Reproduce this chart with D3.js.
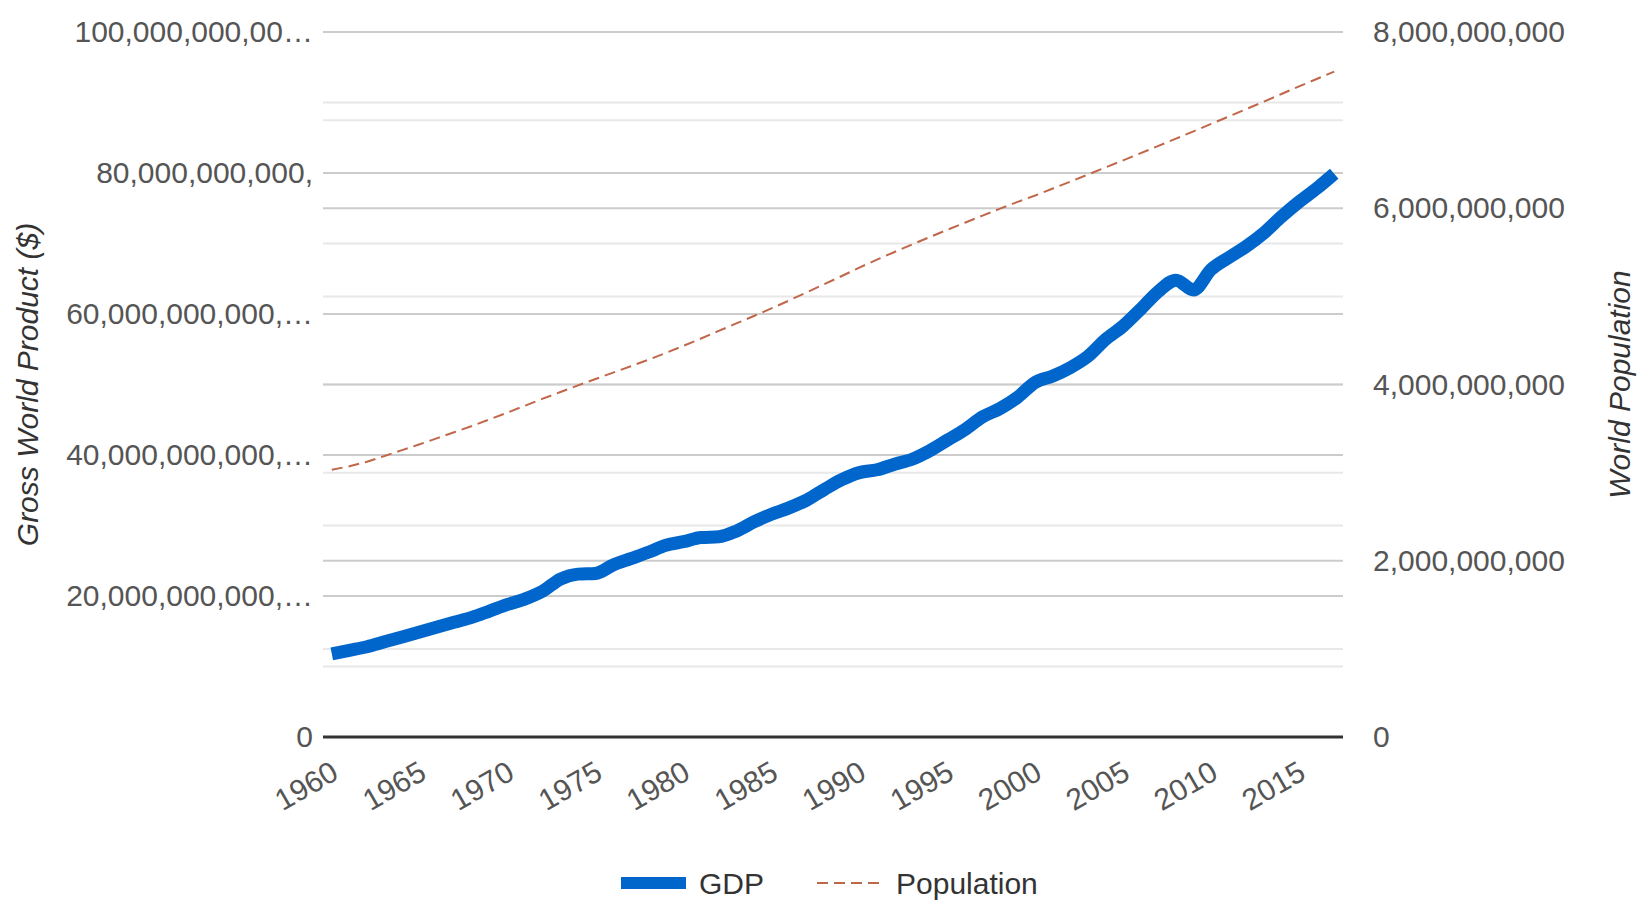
<!DOCTYPE html>
<html>
<head>
<meta charset="utf-8">
<script src="https://cdn.jsdelivr.net/npm/d3@7"></script>
<style>
    body { margin: 0; background: #fff; }
    text { font-family: "Liberation Sans", Arial, sans-serif; }
</style>
</head>
<body>
<div id="chart"></div>
<script>
// yearly data
let years = d3.range(1960, 2018);

// Gross World Product, trillions of $
let gdp = [
    11.8, 12.3, 12.8, 13.5, 14.2, 14.9, 15.6, 16.3, 17.0, 17.9,
    18.8, 19.6, 20.7, 22.4, 23.1, 23.2, 24.4, 25.3, 26.2, 27.2,
    27.7, 28.3, 28.4, 29.2, 30.5, 31.6, 32.5, 33.6, 35.1, 36.5,
    37.5, 37.9, 38.7, 39.4, 40.6, 42.1, 43.6, 45.4, 46.6, 48.2,
    50.3, 51.2, 52.4, 54.0, 56.4, 58.3, 60.7, 63.2, 64.8, 63.4,
    66.3, 68.0, 69.6, 71.5, 73.8, 75.9, 77.8, 79.9
];

// World population, billions
let population = [
    3.032, 3.072, 3.124, 3.189, 3.255, 3.322, 3.392, 3.461, 3.532, 3.606,
    3.682, 3.761, 3.839, 3.915, 3.990, 4.063, 4.135, 4.207, 4.281, 4.358,
    4.439, 4.522, 4.608, 4.693, 4.777, 4.863, 4.953, 5.045, 5.138, 5.231,
    5.327, 5.417, 5.504, 5.589, 5.673, 5.755, 5.836, 5.916, 5.995, 6.072,
    6.145, 6.224, 6.303, 6.383, 6.463, 6.544, 6.625, 6.707, 6.790, 6.873,
    6.957, 7.041, 7.125, 7.210, 7.296, 7.383, 7.467, 7.550
];

let leftTicks = [0, 20e12, 40e12, 60e12, 80e12, 100e12];
let leftTickLabels = ['0', '20,000,000,000,\u2026', '40,000,000,000,\u2026',
    '60,000,000,000,\u2026', '80,000,000,000,', '100,000,000,00\u2026'];
let leftMinor = [10e12, 30e12, 50e12, 70e12, 90e12];

let rightTicks = [0, 2e9, 4e9, 6e9, 8e9];
let rightMinor = [1e9, 3e9, 5e9, 7e9];

let xLabelYears = d3.range(1960, 2018, 5);

let width = 1643, height = 907;
let plotLeft = 323, plotRight = 1343, plotTop = 32, plotBottom = 737;

let svg = d3.select('#chart')
    .append('svg')
    .attr('width', width)
    .attr('height', height);

let x = d3.scalePoint()
    .domain(years)
    .range([plotLeft, plotRight])
    .padding(0.5);

let yLeft = d3.scaleLinear()
    .domain([0, 100e12])
    .range([plotBottom, plotTop]);

let yRight = d3.scaleLinear()
    .domain([0, 8e9])
    .range([plotBottom, plotTop]);

// minor gridlines
let grid = svg.append('g').attr('id', 'gridG');
grid.selectAll('line.minorL')
    .data(leftMinor)
    .join('line')
    .attr('x1', plotLeft).attr('x2', plotRight)
    .attr('y1', d => yLeft(d)).attr('y2', d => yLeft(d))
    .attr('stroke', '#e8e8e8').attr('stroke-width', 2);
grid.selectAll('line.minorR')
    .data(rightMinor)
    .join('line')
    .attr('x1', plotLeft).attr('x2', plotRight)
    .attr('y1', d => yRight(d)).attr('y2', d => yRight(d))
    .attr('stroke', '#e8e8e8').attr('stroke-width', 2);

// major gridlines (left + right axis)
grid.selectAll('line.majorL')
    .data(leftTicks.slice(1))
    .join('line')
    .attr('x1', plotLeft).attr('x2', plotRight)
    .attr('y1', d => yLeft(d)).attr('y2', d => yLeft(d))
    .attr('stroke', '#cccccc').attr('stroke-width', 2);
grid.selectAll('line.majorR')
    .data(rightTicks.slice(1))
    .join('line')
    .attr('x1', plotLeft).attr('x2', plotRight)
    .attr('y1', d => yRight(d)).attr('y2', d => yRight(d))
    .attr('stroke', '#cccccc').attr('stroke-width', 2);

// left axis
let leftAxis = d3.axisLeft(yLeft)
    .tickValues(leftTicks)
    .tickSize(0)
    .tickPadding(10)
    .tickFormat((d, i) => leftTickLabels[i]);
let gl = svg.append('g')
    .attr('transform', `translate(${plotLeft},0)`)
    .call(leftAxis);
gl.select('.domain').remove();
gl.selectAll('text')
    .attr('font-size', 30)
    .attr('font-family', '"Liberation Sans", Arial, sans-serif')
    .attr('fill', '#555');

// right axis
let rightAxis = d3.axisRight(yRight)
    .tickValues(rightTicks)
    .tickSize(0)
    .tickPadding(30)
    .tickFormat(d3.format(','));
let gr = svg.append('g')
    .attr('transform', `translate(${plotRight},0)`)
    .call(rightAxis);
gr.select('.domain').remove();
gr.selectAll('text')
    .attr('font-size', 30)
    .attr('font-family', '"Liberation Sans", Arial, sans-serif')
    .attr('fill', '#555');

// x axis labels, slanted
let bottomAxis = d3.axisBottom(x)
    .tickValues(xLabelYears)
    .tickSize(0)
    .tickFormat(d => d);
let gb = svg.append('g')
    .attr('transform', `translate(0,${plotBottom})`)
    .call(bottomAxis);
gb.select('.domain').remove();
gb.selectAll('text')
    .attr('font-size', 30)
    .attr('font-family', '"Liberation Sans", Arial, sans-serif')
    .attr('fill', '#555')
    .attr('text-anchor', 'end')
    .attr('dy', null)
    .attr('y', 0)
    .attr('transform', 'translate(8,41) rotate(-30)');

// baseline
svg.append('line')
    .attr('x1', plotLeft).attr('x2', plotRight)
    .attr('y1', yLeft(0)).attr('y2', yLeft(0))
    .attr('stroke', '#333').attr('stroke-width', 3);

// population line (right axis)
let popLine = d3.line()
    .x((d, i) => x(years[i]))
    .y(d => yRight(d * 1e9));
svg.append('path')
    .datum(population)
    .attr('d', popLine)
    .attr('fill', 'none')
    .attr('stroke', '#c0674a')
    .attr('stroke-width', 2)
    .attr('stroke-dasharray', '11,6');

// gdp line (left axis)
let gdpLine = d3.line()
    .x((d, i) => x(years[i]))
    .y(d => yLeft(d * 1e12))
    .curve(d3.curveMonotoneX);
svg.append('path')
    .datum(gdp)
    .attr('d', gdpLine)
    .attr('fill', 'none')
    .attr('stroke', '#0066cc')
    .attr('stroke-width', 13)
    .attr('stroke-linejoin', 'round');

// axis titles
svg.append('text')
    .attr('transform', `translate(38,${(plotTop + plotBottom) / 2}) rotate(-90)`)
    .attr('text-anchor', 'middle')
    .attr('font-size', 30)
    .attr('font-style', 'italic')
    .attr('fill', '#333')
    .text('Gross World Product ($)');

svg.append('text')
    .attr('transform', `translate(1630,${(plotTop + plotBottom) / 2}) rotate(-90)`)
    .attr('text-anchor', 'middle')
    .attr('font-size', 30)
    .attr('font-style', 'italic')
    .attr('fill', '#333')
    .text('World Population');

// legend
let legend = svg.append('g').attr('id', 'legendG');
legend.append('line')
    .attr('x1', 621).attr('x2', 686)
    .attr('y1', 883).attr('y2', 883)
    .attr('stroke', '#0066cc').attr('stroke-width', 12);
legend.append('text')
    .attr('x', 699).attr('y', 894)
    .attr('font-size', 30)
    .attr('fill', '#333')
    .text('GDP');
legend.append('line')
    .attr('x1', 817).attr('x2', 880)
    .attr('y1', 883).attr('y2', 883)
    .attr('stroke', '#c0674a').attr('stroke-width', 2)
    .attr('stroke-dasharray', '11,6');
legend.append('text')
    .attr('x', 896).attr('y', 894)
    .attr('font-size', 30)
    .attr('fill', '#333')
    .text('Population');
</script>
</body>
</html>
